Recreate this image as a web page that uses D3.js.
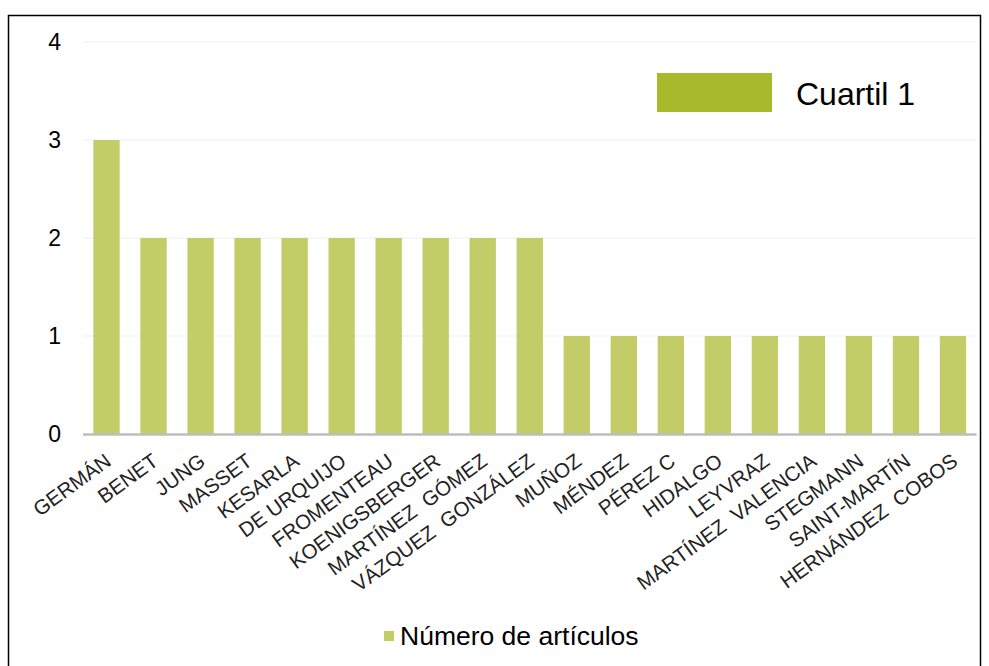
<!DOCTYPE html>
<html>
<head>
<meta charset="utf-8">
<script src="https://cdn.jsdelivr.net/npm/d3@7"></script>
<style>
  body { margin: 0; background: #fff; }
  text { font-family: "Liberation Sans", Arial, sans-serif; }
</style>
</head>
<body>
<svg id="chart" width="989" height="666"></svg>
<script>
// data
let authors = ["GERMÁN", "BENET", "JUNG", "MASSET", "KESARLA", "DE URQUIJO", "FROMENTEAU",
    "KOENIGSBERGER", "MARTÍNEZ  GÓMEZ", "VÁZQUEZ  GONZÁLEZ", "MUÑOZ", "MÉNDEZ", "PÉREZ C",
    "HIDALGO", "LEYVRAZ", "MARTÍNEZ  VALENCIA", "STEGMANN", "SAINT-MARTÍN", "HERNÁNDEZ  COBOS"]
let articles = [3, 2, 2, 2, 2, 2, 2, 2, 2, 2, 1, 1, 1, 1, 1, 1, 1, 1, 1]
let yTicks = [0, 1, 2, 3, 4]
let seriesName = "Número de artículos"
let boxLabel = "Cuartil 1"

let barColor = "#c2cd67"
let boxColor = "#a8b92b"

let svg = d3.select("#chart")

// outer frame
svg.append("rect")
    .attr("x", 8.5).attr("y", 15.5)
    .attr("width", 972).attr("height", 700)
    .attr("fill", "none")
    .attr("stroke", "#000")
    .attr("stroke-width", 1.5)

let x = d3.scaleBand()
    .domain(authors)
    .range([83, 976.5])
    .paddingInner(0.44)
    .paddingOuter(0.22)

let y = d3.scaleLinear()
    .domain([0, 4])
    .range([434, 42])

// gridlines
svg.append("g")
    .selectAll("line")
    .data(yTicks.slice(1))
    .join("line")
    .attr("x1", 83).attr("x2", 976.5)
    .attr("y1", d => y(d)).attr("y2", d => y(d))
    .attr("stroke", "#efefef")
    .attr("stroke-width", 1.2)

// y labels
svg.append("g")
    .selectAll("text")
    .data(yTicks)
    .join("text")
    .attr("x", 61)
    .attr("y", d => y(d) + 8)
    .attr("text-anchor", "end")
    .attr("font-size", 23)
    .attr("fill", "#000")
    .text(d => d)

// bars
svg.append("g")
    .selectAll("rect")
    .data(articles)
    .join("rect")
    .attr("x", (d, i) => x(authors[i]))
    .attr("y", d => y(d))
    .attr("width", x.bandwidth())
    .attr("height", d => y(0) - y(d))
    .attr("fill", barColor)

// base axis
svg.append("line")
    .attr("x1", 83).attr("x2", 976.5)
    .attr("y1", 434.5).attr("y2", 434.5)
    .attr("stroke", "#bdbdbd")
    .attr("stroke-width", 2.5)

// category labels
svg.append("g")
    .selectAll("text")
    .data(authors)
    .join("text")
    .attr("transform", d => "translate(" + (x(d) + x.bandwidth() / 2 + 6) + ",464) rotate(-36)")
    .attr("text-anchor", "end")
    .attr("font-size", 20.5)
    .attr("fill", "#222")
    .style("white-space", "pre")
    .text(d => d)

// boxed legend at top right
svg.append("rect")
    .attr("x", 657).attr("y", 73)
    .attr("width", 115).attr("height", 39)
    .attr("fill", boxColor)
svg.append("text")
    .attr("x", 796).attr("y", 105)
    .attr("font-size", 32)
    .attr("fill", "#000")
    .text(boxLabel)

// series legend at bottom
svg.append("rect")
    .attr("x", 384).attr("y", 631)
    .attr("width", 10).attr("height", 10)
    .attr("fill", barColor)
svg.append("text")
    .attr("x", 400).attr("y", 645)
    .attr("font-size", 26.5)
    .attr("fill", "#000")
    .text(seriesName)
</script>
</body>
</html>
